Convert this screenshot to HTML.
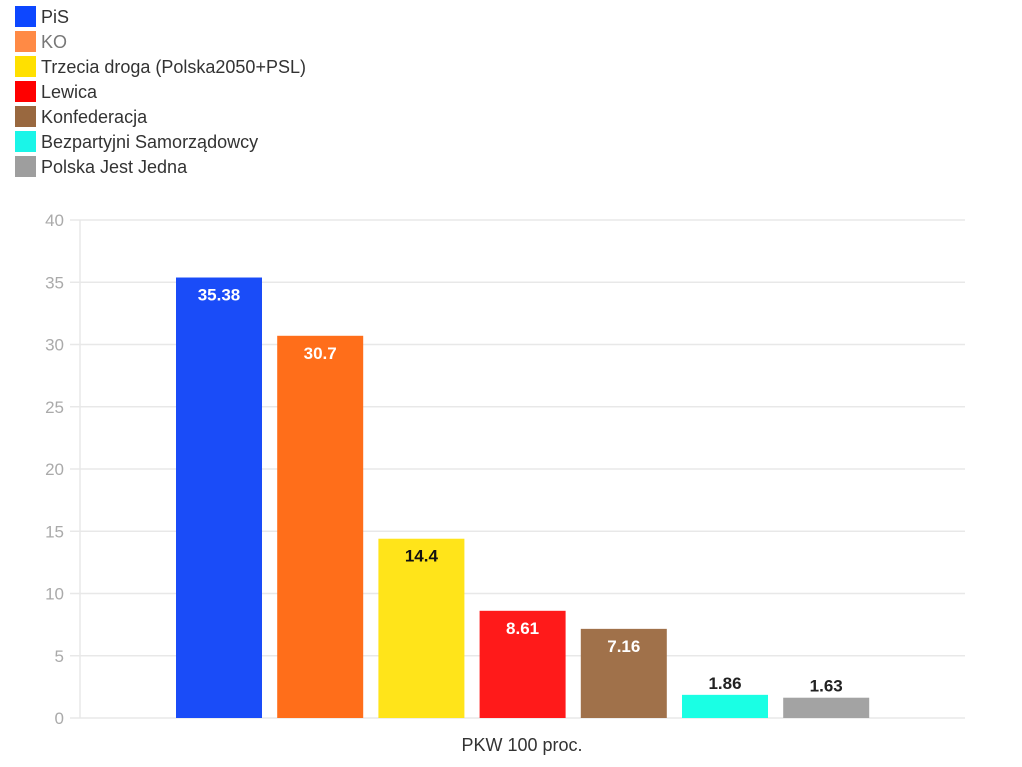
<!DOCTYPE html>
<html><head><meta charset="utf-8"><style>
body{margin:0;background:#fff;width:1022px;height:762px;overflow:hidden;font-family:"Liberation Sans",sans-serif}
</style></head><body>
<svg id="c" width="1022" height="762" xmlns="http://www.w3.org/2000/svg"></svg>
<script>
const categories=["PiS","KO","Trzecia droga (Polska2050+PSL)","Lewica","Konfederacja","Bezpartyjni Samorządowcy","Polska Jest Jedna"];
const values=[35.38,30.7,14.4,8.61,7.16,1.86,1.63];
const labels=["35.38","30.7","14.4","8.61","7.16","1.86","1.63"];
const yTicks=[0,5,10,15,20,25,30,35,40];
const barColors=["#1a4cf8","#ff6e1a","#ffe41a","#ff1a1a","#a0714a","#1affe4","#a3a3a3"];
const legendColors=["#0d47ff","#ff8a45","#ffe000","#ff0000","#99683f","#1af5e8","#9e9e9e"];
const labelColors=["#fff","#fff","#111","#fff","#fff","#222","#222"];
const svg=document.getElementById('c');
const NS="http://www.w3.org/2000/svg";
const y0=718,y40=220,xL=80,xR=965;
const y=v=>y0-(v/40)*(y0-y40);
const x=i=>176+i*101.2;
const bw=86;
function mk(t,a,p){const e=document.createElementNS(NS,t);for(const k in a)e.setAttribute(k,a[k]);(p||svg).appendChild(e);return e;}
yTicks.forEach(t=>{
 const g=mk('line',{x1:70,x2:xR,y1:y(t),y2:y(t),stroke:'#e8e8e8','stroke-width':1.5});
 
 
 const tx=mk('text',{x:64,y:y(t)+6,'text-anchor':'end','font-size':17,fill:'#aaa'});
 tx.textContent=t;
 
 
});
const ax=mk('line',{x1:xL,x2:xL,y1:y40,y2:y0,stroke:'#e8e8e8','stroke-width':1.5});


values.forEach((v,i)=>{
 const r=mk('rect',{x:x(i),y:y(v),width:bw,height:y0-y(v),fill:barColors[i]});
 
 
 const inside=(y0-y(v))>40;
 const t=mk('text',{x:x(i)+bw/2,y:inside?y(v)+23:y(v)-6,'text-anchor':'middle','font-size':17,'font-weight':'bold',fill:labelColors[i]});
 t.textContent=labels[i];
 
 
});
const xl=mk('text',{x:522,y:751,'text-anchor':'middle','font-size':18,fill:'#333'});
xl.textContent="PKW 100 proc.";


categories.forEach((c,i)=>{
 const g=mk('g',{});
 
 
 mk('rect',{x:15,y:6+i*25,width:21,height:21,fill:legendColors[i]},g);
 const t=mk('text',{x:41,y:23+i*25,'font-size':18,fill:i==1?'#777':'#333'},g);
 t.textContent=c;
});
</script>
</body></html>
